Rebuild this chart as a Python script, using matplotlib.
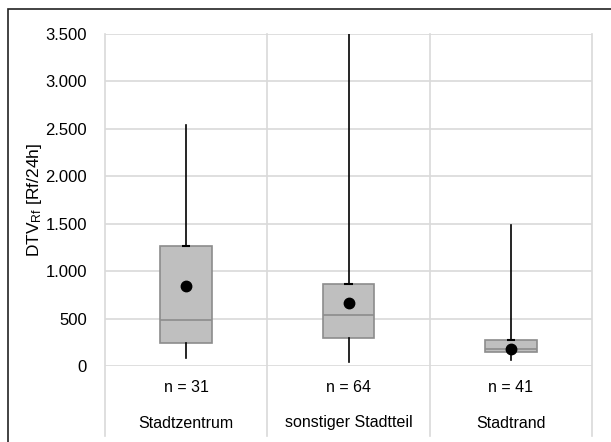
import matplotlib
matplotlib.use("Agg")
import matplotlib.pyplot as plt
from matplotlib.patches import Rectangle
from matplotlib.transforms import blended_transform_factory

FONT = ["Liberation Sans Narrow", "Liberation Sans", "DejaVu Sans"]
plt.rcParams["font.family"] = FONT
plt.rcParams["mathtext.fontset"] = "custom"
plt.rcParams["mathtext.rm"] = "Liberation Sans"
plt.rcParams["mathtext.default"] = "rm"

# data
categories = ["Stadtzentrum", "sonstiger Stadtteil", "Stadtrand"]
counts = [31, 64, 41]
q1 = [240, 300, 148]
median = [485, 540, 176]
q3 = [1270, 865, 275]
whis_lo = [85, 45, 63]
whis_hi = [2540, 4200, 1490]
means = [846, 666, 183]

yticks = [0, 500, 1000, 1500, 2000, 2500, 3000, 3500]
ytick_labels = ["0", "500", "1.000", "1.500", "2.000", "2.500", "3.000", "3.500"]

fig = plt.figure(figsize=(6.11, 4.42), dpi=100)
ax = fig.add_axes([105 / 611, 1 - 366 / 442, (592 - 105) / 611, (366 - 34) / 442])

stats = []
for i in range(len(categories)):
    stats.append({"med": median[i], "q1": q1[i], "q3": q3[i],
                  "whislo": whis_lo[i], "whishi": whis_hi[i],
                  "mean": means[i], "fliers": []})

pos = list(range(len(categories)))
ax.bxp(stats, positions=pos, widths=0.32, showmeans=True, showcaps=False,
       showfliers=False, patch_artist=True,
       boxprops=dict(facecolor="#bfbfbf", edgecolor="#8c8c8c", linewidth=1.2),
       medianprops=dict(color="#8c8c8c", linewidth=1.2),
       whiskerprops=dict(color="black", linewidth=1.2),
       meanprops=dict(marker="o", markerfacecolor="black", markeredgecolor="black",
                      markersize=7.5), zorder=3)
# small caps where the upper whisker leaves the box
ax.hlines(q3, [p - 0.025 for p in pos], [p + 0.025 for p in pos],
          color="black", linewidth=1.5, zorder=4)

ax.set_xlim(-0.5, 2.5)
ax.set_ylim(0, 3500)
ax.set_yticks(yticks)
ax.set_yticklabels(ytick_labels, fontsize=12)
ax.set_xticks([])
ax.tick_params(axis="y", length=0, pad=13)
for s in ax.spines.values():
    s.set_visible(False)
ax.grid(axis="y", color="#d9d9d9", linewidth=1.2, zorder=0)
ax.set_axisbelow(True)

# category separators reaching into the label area
for x in [-0.5, 0.5, 1.5, 2.5]:
    ax.axvline(x, ymin=-0.211, ymax=1, color="#d9d9d9", linewidth=1.2,
               clip_on=False, zorder=0)

trans = blended_transform_factory(ax.transData, ax.transAxes)
for i, cat in enumerate(categories):
    ax.text(i, -22 / 332, "n = %d" % counts[i], transform=trans,
            ha="center", va="center", fontsize=11.5)
    ax.text(i, -57 / 332, cat, transform=trans, ha="center", va="center",
            fontsize=11.5)

ax.set_ylabel("DTV$_{Rf}$ [Rf/24h]", fontsize=12.5, labelpad=1)

# outer chart frame (cut off at right and bottom)
fig.patches.append(Rectangle((8 / 611, -0.2), 1.2, 0.2 + 1 - 9 / 442,
                             transform=fig.transFigure, fill=False,
                             edgecolor="#222222", linewidth=1.2))

fig.savefig("out.png", dpi=100)
